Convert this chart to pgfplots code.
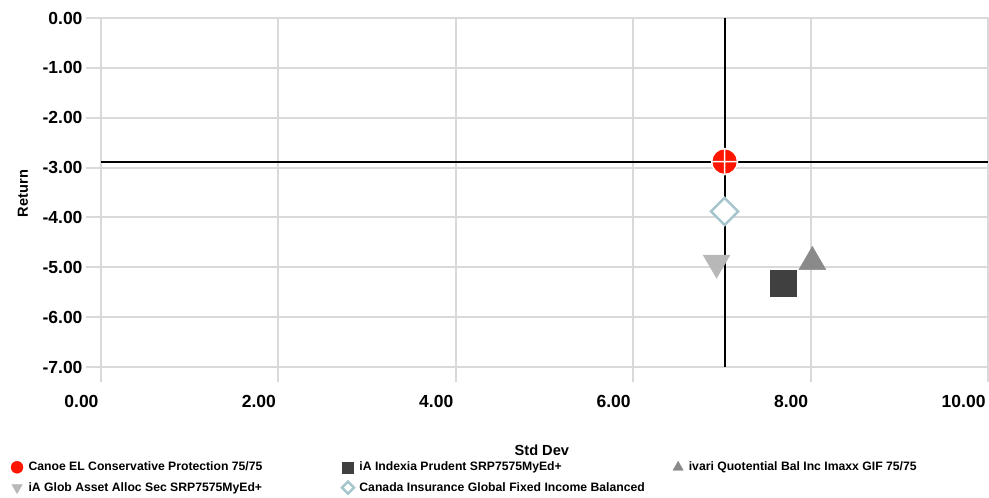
\documentclass[border=0pt]{standalone}
\usepackage{fontspec}
\setmainfont{Liberation Sans}
\usepackage{pgfplots}
\pgfplotsset{compat=1.18}
\definecolor{gridc}{HTML}{D9D9D9}
\definecolor{redc}{HTML}{FF1500}
\definecolor{sqc}{HTML}{404040}
\definecolor{upc}{HTML}{8A8A8A}
\definecolor{dnc}{HTML}{B8B8B8}
\definecolor{dic}{HTML}{A6C5CD}
\newcommand{\legbox}[1]{\makebox[312bp][l]{#1}}
\pgfplotsset{
  legmark/.style={legend image code/.code={\draw[##1, mark size=#1] plot coordinates {(0bp,0bp)};}},
}
\begin{document}
\begin{tikzpicture}
\begin{axis}[
  at={(0,0)}, anchor=south west,
  scale only axis, width=887bp, height=349bp,
  xmin=0, xmax=10, ymin=-7, ymax=0,
  xtick={0,2,4,6,8,10}, ytick={-7,-6,-5,-4,-3,-2,-1,0},
  grid=major, major grid style={draw=gridc, line width=2bp},
  axis line style={draw=gridc, line width=2bp},
  tick align=outside, major tick length=15bp,
  tick style={draw=gridc, line width=2bp},
  xtick pos=bottom, ytick pos=left,
  /pgf/number format/fixed, /pgf/number format/fixed zerofill,
  /pgf/number format/precision=2, /pgf/number format/assume math mode=true,
  ticklabel style={font=\fontsize{17.5bp}{20bp}\selectfont\bfseries},
  xticklabel style={anchor=north east, xshift=1bp, yshift=-10bp},
  yticklabel style={anchor=east},
  xlabel={Std Dev}, ylabel={Return},
  label style={font=\fontsize{14.6bp}{17bp}\selectfont\bfseries},
  xlabel style={at={(axis description cs:0.497,-0.24)}, anchor=center},
  ylabel style={at={(axis description cs:-0.088,0.497)}, anchor=center},
  legend columns=3,
  legend style={at={(axis description cs:-0.105,-0.262)}, anchor=north west,
    draw=none, fill=none, font=\fontsize{12.2bp}{14bp}\selectfont\bfseries,
    row sep=7bp,
    /tikz/every odd column/.append style={column sep=4bp},
    nodes={inner sep=1.5bp}},
  legend cell align=left,
  legmark=6bp,
]
\addplot[only marks, mark=*, mark size=13bp, draw=redc, fill=redc] coordinates {(7.03,-2.88)};
\addlegendentry{\legbox{Canoe EL Conservative Protection 75/75}}
\addplot[only marks, mark=square*, mark size=13bp, draw=sqc, fill=sqc, legmark=5.5bp] coordinates {(7.69,-5.32)};
\addlegendentry{\legbox{iA Indexia Prudent SRP7575MyEd+}}
\addplot[only marks, mark=triangle*, mark size=15.5bp, draw=upc, fill=upc] coordinates {(8.02,-4.89)};
\addlegendentry{\legbox{ivari Quotential Bal Inc Imaxx GIF 75/75}}
\addplot[only marks, mark=triangle*, mark size=15.5bp, mark options={rotate=180}, draw=dnc, fill=dnc] coordinates {(6.94,-4.91)};
\addlegendentry{\legbox{iA Glob Asset Alloc Sec SRP7575MyEd+}}
\addplot[only marks, mark=square*, mark size=9.6bp, mark options={rotate=45}, draw=dic, fill=white, line width=2.5bp, legmark=4.2bp] coordinates {(7.03,-3.88)};
\addlegendentry{\legbox{Canada Insurance Global Fixed Income Balanced}}
\addplot[forget plot, black, line width=2bp] coordinates {(7.03,-7) (7.03,0)};
\addplot[forget plot, black, line width=2bp] coordinates {(0,-2.88) (10,-2.88)};
\addplot[forget plot, only marks, mark=oplus*, mark size=13bp, draw=white, fill=redc, line width=1.5bp] coordinates {(7.03,-2.88)};
\end{axis}
\pgfresetboundingbox
\path (-101bp,-131bp) rectangle (888bp,367bp);
\end{tikzpicture}
\end{document}
